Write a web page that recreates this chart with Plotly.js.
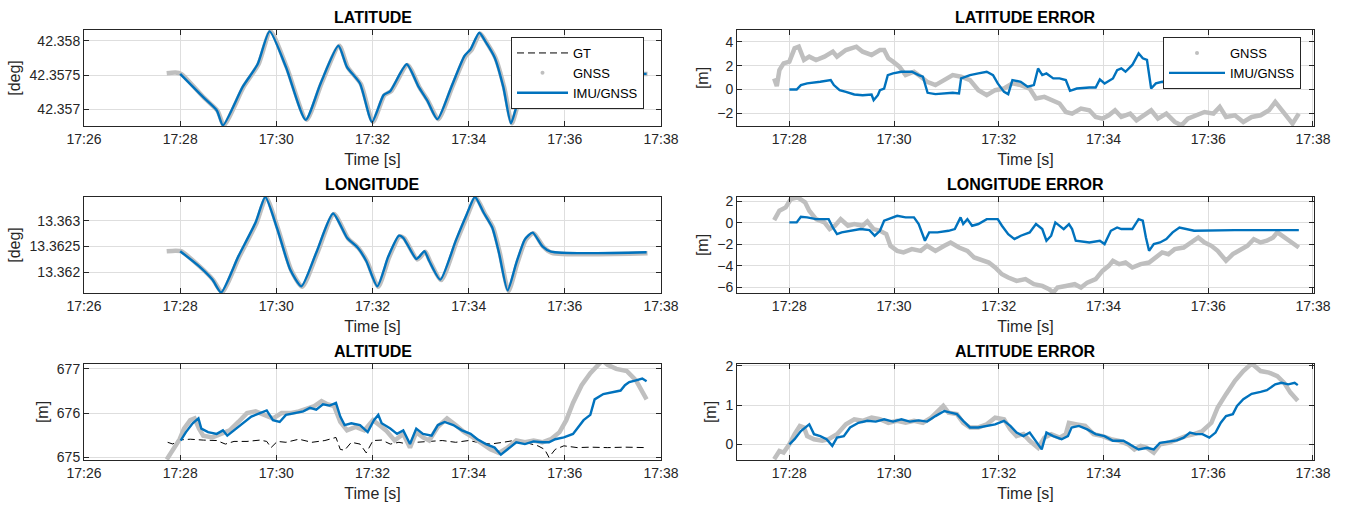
<!DOCTYPE html>
<html>
<head>
<meta charset="utf-8">
<script src="https://cdn.plot.ly/plotly-3.0.1.min.js"></script>
<style>html,body{margin:0;padding:0;background:#fff;}#chart{width:1349px;height:507px;}</style>
</head>
<body>
<div id="chart"></div>
<script>
// Times are minutes past 17:00 (same day)
const latT = [28.00,28.48,28.76,28.89,29.30,29.61,29.86,30.20,30.61,30.92,31.29,31.47,31.74,31.99,32.23,32.37,32.71,32.96,33.14,33.35,33.64,33.91,34.04,34.22,34.36,34.54,34.72,34.88,35.04,35.30,35.60,35.75,37.70];
const latImu = [42.35752,42.35718,42.35699,42.35677,42.35733,42.35766,42.35814,42.35762,42.35685,42.35738,42.35793,42.35762,42.35738,42.35682,42.35721,42.35727,42.35766,42.35733,42.35713,42.35686,42.35733,42.35778,42.35788,42.35812,42.35798,42.35776,42.35733,42.35680,42.35713,42.35730,42.35748,42.35752,42.35752];
const latGnssT = [27.72,27.90,28.02,28.50,28.78,28.91,29.32,29.63,29.88,30.22,30.63,30.94,31.31,31.49,31.76,32.01,32.25,32.39,32.73,32.98,33.16,33.37,33.66,33.93,34.06,34.24,34.38,34.56,34.74,34.90,35.06,35.32,35.62,35.77,37.72];
const latGnss = [42.35753,42.35754,42.35752,42.35717,42.35698,42.35677,42.35733,42.35766,42.35814,42.35761,42.35685,42.35738,42.35793,42.35761,42.35737,42.35682,42.35721,42.35727,42.35765,42.35732,42.35712,42.35686,42.35733,42.35777,42.35787,42.35811,42.35797,42.35775,42.35732,42.35680,42.35713,42.35730,42.35748,42.35752,42.35752];

const lonT = [28.00,28.39,28.67,28.85,29.21,29.57,29.77,30.02,30.29,30.52,30.83,31.18,31.47,31.69,31.87,32.10,32.33,32.55,32.64,32.91,32.98,33.08,33.18,33.41,33.73,33.95,34.13,34.31,34.49,34.63,34.81,34.99,35.17,35.33,35.53,35.71,37.70];
const lonImu = [13.36241,13.36212,13.36186,13.36161,13.36231,13.36297,13.36346,13.36284,13.36205,13.36173,13.36238,13.36314,13.36267,13.36248,13.36222,13.36173,13.36231,13.36271,13.36267,13.36226,13.36231,13.36241,13.36222,13.36186,13.36261,13.36310,13.36346,13.36316,13.36287,13.36238,13.36165,13.36218,13.36264,13.36277,13.36251,13.36240,13.36239];
const lonGnssT = [27.72,27.90,28.02,28.41,28.69,28.87,29.23,29.59,29.79,30.04,30.31,30.54,30.85,31.20,31.49,31.71,31.89,32.12,32.35,32.57,32.66,32.93,33.00,33.10,33.20,33.43,33.75,33.97,34.15,34.33,34.51,34.65,34.83,35.01,35.19,35.35,35.55,35.73,37.72];
const lonGnss = [13.36241,13.36242,13.36241,13.36211,13.36185,13.36161,13.36230,13.36296,13.36345,13.36283,13.36204,13.36172,13.36237,13.36313,13.36266,13.36247,13.36221,13.36172,13.36230,13.36270,13.36266,13.36225,13.36230,13.36240,13.36221,13.36185,13.36260,13.36309,13.36345,13.36315,13.36286,13.36237,13.36164,13.36217,13.36263,13.36276,13.36250,13.36238,13.36237];

const altGnssT = [27.72,27.81,27.90,27.99,28.08,28.21,28.30,28.39,28.48,28.67,28.85,29.03,29.21,29.39,29.57,29.75,29.93,30.11,30.29,30.47,30.65,30.79,30.94,31.06,31.20,31.33,31.47,31.65,31.83,32.01,32.14,32.28,32.46,32.64,32.78,32.91,33.05,33.18,33.36,33.55,33.73,33.91,34.09,34.27,34.45,34.63,34.81,34.99,35.17,35.35,35.53,35.71,35.89,36.03,36.17,36.35,36.53,36.78,36.89,37.07,37.29,37.48,37.61,37.70];
const altGnss = [674.95,675.10,675.26,675.41,675.65,675.84,675.88,675.65,675.49,675.45,675.53,675.61,675.80,676.00,676.04,675.96,675.88,676.00,676.00,676.04,676.12,676.16,676.27,676.20,676.16,675.80,675.61,675.69,675.61,675.84,675.73,675.61,675.38,675.53,675.22,675.57,675.45,675.38,675.69,675.88,675.73,675.57,675.45,675.30,675.18,675.10,675.22,675.38,675.34,675.38,675.34,675.41,675.57,675.84,676.23,676.63,676.90,677.19,677.09,677.00,676.95,676.74,676.51,676.31];
const altImuT = [28.01,28.12,28.26,28.38,28.44,28.58,28.76,28.89,28.98,29.16,29.30,29.48,29.66,29.80,29.93,30.07,30.20,30.38,30.56,30.70,30.83,30.97,31.11,31.24,31.33,31.42,31.56,31.74,31.90,32.03,32.12,32.19,32.37,32.51,32.64,32.78,32.91,33.05,33.23,33.36,33.50,33.68,33.86,34.04,34.18,34.36,34.54,34.67,34.81,34.99,35.17,35.35,35.53,35.67,35.80,35.98,36.17,36.26,36.39,36.53,36.62,36.80,36.98,37.16,37.25,37.34,37.48,37.61,37.70];
const altImu = [675.38,675.57,675.77,675.88,675.65,675.57,675.53,675.61,675.49,675.65,675.77,675.92,676.00,676.06,675.84,675.80,675.96,676.00,676.04,676.12,676.08,676.20,676.17,676.23,675.92,675.73,675.77,675.73,675.57,675.84,675.96,675.77,675.65,675.53,675.61,675.30,675.65,675.53,675.49,675.73,675.80,675.73,675.61,675.53,675.41,675.30,675.22,675.06,675.18,675.34,675.30,675.36,675.34,675.34,675.41,675.45,675.53,675.65,675.84,675.96,676.31,676.43,676.47,676.51,676.63,676.70,676.74,676.78,676.72];
const altGtT = [27.74,27.85,27.94,28.21,28.48,28.76,28.94,29.12,29.39,29.66,29.80,29.89,30.02,30.20,30.47,30.74,31.01,31.24,31.33,31.42,31.56,31.74,31.87,32.01,32.19,32.37,32.55,32.73,32.91,33.18,33.45,33.73,34.00,34.18,34.45,34.72,34.99,35.17,35.44,35.58,35.67,35.80,35.98,36.26,36.53,36.89,37.25,37.70];
const altGt = [675.34,675.30,675.39,675.41,675.39,675.38,675.30,675.36,675.36,675.39,675.36,675.22,675.36,675.34,675.41,675.34,675.38,675.45,675.18,675.16,675.34,675.30,675.10,675.38,675.39,675.30,675.34,675.30,675.34,675.36,675.38,675.34,675.38,675.34,675.30,675.34,675.39,675.34,675.26,675.18,675.00,675.18,675.26,675.22,675.23,675.22,675.23,675.22];

const latErrGnssT = [27.71,27.76,27.81,27.89,28.00,28.10,28.18,28.28,28.38,28.51,28.67,28.83,28.91,29.08,29.28,29.40,29.57,29.73,29.81,29.89,29.98,30.10,30.22,30.38,30.51,30.63,30.79,30.96,31.12,31.28,31.45,31.61,31.77,31.93,32.10,32.26,32.42,32.59,32.71,32.87,33.00,33.16,33.28,33.40,33.57,33.73,33.85,33.98,34.10,34.22,34.34,34.51,34.63,34.79,34.91,35.04,35.20,35.36,35.49,35.61,35.77,35.93,36.10,36.22,36.34,36.51,36.67,36.83,37.00,37.16,37.28,37.40,37.49,37.61,37.73];
const latErrGnss = [0.93,0.28,1.63,2.2,2.34,3.46,3.6,2.48,2.76,2.48,2.76,3.18,2.76,3.32,3.6,3.18,2.9,3.32,3.32,2.62,2.34,1.92,1.21,1.49,1.07,0.65,0.37,0.79,1.21,1.07,0.79,-0.06,-0.48,-0.06,0.08,0.51,0.37,0.08,-0.76,-0.62,-0.9,-1.18,-1.89,-2.03,-1.61,-1.75,-2.31,-2.45,-2.17,-1.75,-2.31,-2.03,-2.59,-2.17,-1.75,-2.45,-2.03,-2.73,-3.01,-2.45,-2.17,-1.89,-2.03,-1.46,-2.31,-2.17,-2.73,-2.31,-2.17,-1.75,-1.04,-1.75,-2.17,-2.87,-2.03];
const latErrImuT = [28.00,28.14,28.22,28.34,28.59,28.79,28.85,28.96,29.08,29.24,29.40,29.57,29.61,29.69,29.73,29.81,29.88,29.98,30.14,30.34,30.47,30.55,30.64,30.79,31.12,31.24,31.28,31.45,31.61,31.77,31.89,31.98,32.10,32.18,32.26,32.42,32.55,32.67,32.75,32.83,32.91,33.04,33.16,33.28,33.36,33.49,33.73,33.85,33.93,34.02,34.18,34.26,34.34,34.42,34.55,34.67,34.75,34.83,34.91,35.00,35.12,35.32,35.40,35.45,36.50,37.72];
const latErrImu = [0,0,0.37,0.51,0.65,0.79,0.37,-0.06,-0.2,-0.42,-0.48,-0.42,-0.9,-0.48,-0.06,0.08,1.21,1.35,1.49,1.49,1.21,1.07,-0.28,-0.39,-0.28,-0.34,0.93,1.21,1.35,1.49,1.21,0.51,-0.2,-0.39,0.79,0.65,0.23,0.37,1.77,1.21,1.35,0.93,0.93,0.79,-0.11,0.08,0.17,0.17,0.85,0.51,0.93,1.63,1.77,1.49,2.06,3.04,2.62,2.48,0.08,0.51,0.65,0.59,0.62,2.0,2.05,2.1];

const lonErrGnssT = [27.71,27.81,27.93,28.03,28.16,28.30,28.38,28.51,28.67,28.77,28.87,28.98,29.12,29.24,29.40,29.49,29.61,29.73,29.85,29.93,30.06,30.18,30.34,30.51,30.63,30.79,30.96,31.08,31.24,31.40,31.53,31.65,31.81,31.93,32.06,32.18,32.34,32.51,32.67,32.83,32.96,33.04,33.12,33.28,33.45,33.57,33.69,33.85,33.98,34.10,34.18,34.30,34.42,34.55,34.71,34.87,35.00,35.12,35.24,35.36,35.53,35.69,35.81,35.93,36.06,36.18,36.34,36.47,36.59,36.75,36.87,37.00,37.12,37.24,37.32,37.45,37.57,37.73];
const lonErrGnss = [0.25,1.12,1.43,2.21,2.37,1.9,1.12,0.34,0.03,-0.59,-0.28,0.34,-0.28,-0.12,-0.28,0.12,-0.59,-0.75,-1.06,-2.15,-2.62,-2.77,-2.46,-2.62,-2.15,-2.62,-2.15,-1.84,-2.31,-2.62,-3.24,-3.4,-3.71,-4.17,-4.8,-5.11,-5.42,-5.26,-5.73,-5.89,-6.2,-6.51,-6.04,-5.89,-5.73,-6.04,-5.58,-5.26,-4.49,-4.02,-3.55,-3.86,-3.71,-4.17,-3.86,-3.71,-3.24,-2.77,-2.93,-2.46,-2.31,-1.84,-1.37,-1.84,-2.15,-2.62,-3.55,-2.93,-2.62,-2.15,-1.53,-1.84,-1.68,-1.37,-0.9,-1.37,-1.68,-2.31];
const lonErrImuT = [28.00,28.14,28.22,28.34,28.51,28.75,28.83,28.91,29.00,29.16,29.36,29.53,29.63,29.73,29.81,29.89,30.06,30.22,30.38,30.47,30.59,30.67,30.83,31.04,31.16,31.27,31.32,31.40,31.49,31.61,31.77,31.98,32.06,32.18,32.30,32.42,32.59,32.71,32.83,32.91,33.00,33.08,33.16,33.24,33.34,33.40,33.47,33.73,33.93,34.02,34.14,34.26,34.34,34.55,34.67,34.75,34.81,34.87,34.96,35.08,35.20,35.32,35.45,35.61,35.73,36.51,37.73];
const lonErrImu = [0.03,0.03,0.56,0.5,0.34,0.34,-0.44,-1.06,-0.9,-0.75,-0.59,-0.69,-1.21,-0.75,0.19,0.34,0.65,0.5,0.5,-0.12,-1.68,-0.9,-0.9,-0.75,-0.59,0.5,-0.12,0.34,-0.28,-0.12,0.34,0.34,-0.28,-1.06,-1.53,-1.21,-0.9,-0.12,-0.59,-1.68,-1.21,0.03,-0.28,-0.59,-0.12,-0.59,-1.68,-1.84,-1.68,-1.99,-0.75,-0.44,-0.59,-0.59,0.34,0.19,-1.37,-2.62,-1.99,-1.84,-1.53,-0.9,-0.44,-0.59,-0.75,-0.69,-0.69];

const altErrGnssT = [27.71,27.81,27.89,28.00,28.10,28.20,28.28,28.34,28.47,28.63,28.75,28.91,29.08,29.24,29.40,29.57,29.73,29.89,30.06,30.22,30.38,30.55,30.71,30.83,30.94,31.04,31.20,31.32,31.45,31.61,31.77,31.93,32.10,32.22,32.34,32.47,32.59,32.75,32.87,33.00,33.16,33.28,33.34,33.49,33.65,33.81,33.98,34.14,34.30,34.47,34.59,34.71,34.83,34.96,35.08,35.24,35.40,35.57,35.73,35.89,36.06,36.18,36.34,36.51,36.67,36.83,37.00,37.16,37.32,37.45,37.57,37.71];
const altErrGnss = [-0.38,-0.17,-0.21,0,0.26,0.47,0.43,0.21,0.13,0.09,0.13,0.26,0.51,0.64,0.6,0.68,0.64,0.55,0.6,0.55,0.6,0.55,0.68,0.85,0.98,0.81,0.77,0.55,0.43,0.43,0.51,0.68,0.64,0.38,0.21,0.26,0.09,-0.09,0.17,0.26,0.17,0.26,0.55,0.51,0.47,0.26,0.21,0.13,0.09,0,-0.13,-0.04,-0.09,-0.21,0,0.04,0.13,0.21,0.26,0.34,0.55,0.94,1.28,1.62,1.87,2.06,1.87,1.83,1.74,1.57,1.32,1.11];
const altErrImuT = [28.00,28.10,28.22,28.34,28.38,28.47,28.59,28.71,28.82,28.91,29.04,29.16,29.32,29.49,29.65,29.81,29.98,30.14,30.30,30.47,30.63,30.79,30.96,31.08,31.20,31.32,31.45,31.61,31.77,31.93,32.10,32.22,32.34,32.47,32.59,32.71,32.82,32.91,33.04,33.20,33.32,33.39,33.53,33.69,33.85,34.02,34.18,34.38,34.55,34.67,34.83,34.96,35.08,35.24,35.40,35.53,35.65,35.77,35.89,36.02,36.14,36.24,36.34,36.47,36.55,36.67,36.83,37.00,37.12,37.28,37.40,37.53,37.65,37.71];
const altErrImu = [0,0.13,0.34,0.47,0.51,0.26,0.21,0.13,-0.04,0.17,0.21,0.43,0.55,0.6,0.58,0.64,0.58,0.64,0.58,0.61,0.58,0.72,0.85,0.81,0.77,0.6,0.43,0.43,0.47,0.51,0.6,0.47,0.3,0.21,0.3,0.09,-0.13,0.3,0.21,0.13,0.21,0.43,0.47,0.38,0.26,0.21,0.09,0.09,-0.04,-0.13,-0.09,-0.13,0.04,0.07,0.1,0.17,0.3,0.26,0.26,0.17,0.3,0.55,0.72,0.77,0.98,1.15,1.29,1.34,1.38,1.53,1.57,1.53,1.57,1.51];

const titles = ['LATITUDE','LATITUDE ERROR','LONGITUDE','LONGITUDE ERROR','ALTITUDE','ALTITUDE ERROR'];
const yLabels = ['[deg]','[m]','[deg]','[m]','[m]','[m]'];
const latTicks = [42.357,42.3575,42.358], latTickText = ['42.357','42.3575','42.358'];
const lonTicks = [13.362,13.3625,13.363], lonTickText = ['13.362','13.3625','13.363'];
const altTicks = [675,676,677];
const latErrTicks = [-2,0,2,4];
const lonErrTicks = [-6,-4,-2,0,2];
const altErrTicks = [0,1,2];
const seriesNames = ['GT','GNSS','IMU/GNSS'];

const DAY = '2023-06-01';
function toDate(m){
  const mm = Math.floor(m + 1e-9);
  const s = (m - mm) * 60;
  return DAY + ' 17:' + String(mm).padStart(2,'0') + ':' + s.toFixed(2).padStart(5,'0');
}
const D = a => a.map(toDate);

const GRAY = '#bfbfbf', BLUE = '#0072BD';
const gnssLine = {color: GRAY, width: 4.5};
const imuLine = {color: BLUE, width: 2.4};

const traces = [];
function addPair(ax, tG, vG, tI, vI, spline){
  const shape = spline ? 'spline' : 'linear';
  traces.push({type:'scatter', mode:'lines', x:D(tG), y:vG, xaxis:'x'+ax, yaxis:'y'+ax,
    line:Object.assign({shape:shape, smoothing:0.6}, gnssLine), showlegend:false, hoverinfo:'skip'});
  traces.push({type:'scatter', mode:'lines', x:D(tI), y:vI, xaxis:'x'+ax, yaxis:'y'+ax,
    line:Object.assign({shape:shape, smoothing:0.6}, imuLine), showlegend:false, hoverinfo:'skip'});
}
traces.push({type:'scatter', mode:'lines', x:D(altGtT), y:altGt, xaxis:'x5', yaxis:'y5',
  line:{color:'#000', width:1, dash:'7px,4px'}, name:seriesNames[0], legend:'legend', legendrank:1, showlegend:true});
addPair('', latGnssT, latGnss, latT, latImu, true);
addPair('2', latErrGnssT, latErrGnss, latErrImuT, latErrImu, false);
addPair('3', lonGnssT, lonGnss, lonT, lonImu, true);
addPair('4', lonErrGnssT, lonErrGnss, lonErrImuT, lonErrImu, false);
addPair('5', altGnssT, altGnss, altImuT, altImu, false);
addPair('6', altErrGnssT, altErrGnss, altErrImuT, altErrImu, false);
[['legend',''],['legend2','2']].forEach(([lg, ax]) => {
  traces.push({type:'scatter', mode:'markers', x:[null], y:[null], xaxis:'x'+ax, yaxis:'y'+ax,
    marker:{color:GRAY, size:4}, name:seriesNames[1], legend:lg, legendrank:2, showlegend:true});
  traces.push({type:'scatter', mode:'lines', x:[null], y:[null], xaxis:'x'+ax, yaxis:'y'+ax,
    line:{color:BLUE, width:2.4}, name:seriesNames[2], legend:lg, legendrank:3, showlegend:true});
});

const W = 1349, H = 507;
const colX = [[84/W, 661/W],[737/W, 1314/W]];
const rowY = [[1-126/H, 1-30/H],[1-293/H, 1-197/H],[1-460/H, 1-364/H]];
const AX = '#262626';

function axId(col,row){ const n = row*2 + col + 1; return n === 1 ? '' : String(n); }
function xAxis(col, row){
  const range = col === 0 ? [toDate(26), toDate(38)] : [toDate(27.0), toDate(38.02)];
  return {type:'date', domain:colX[col], anchor:'y'+axId(col,row), range:range,
    tickformat:'%H:%M', dtick:120000, tick0:toDate(26),
    showgrid:true, gridcolor:'#dedede', gridwidth:1, zeroline:false,
    showline:true, linecolor:AX, linewidth:1, mirror:'ticks', ticks:'inside', ticklen:5, tickcolor:AX,
    tickfont:{size:14, color:AX}, title:{text:'Time [s]', font:{size:16, color:AX}, standoff:8}};
}
function yAxis(col,row,range,tv,tt){
  const a = {domain:rowY[row], anchor:'x'+axId(col,row), range:range, tickvals:tv,
    showgrid:true, gridcolor:'#dedede', gridwidth:1, zeroline:false,
    showline:true, linecolor:AX, linewidth:1, mirror:'ticks', ticks:'inside', ticklen:5, tickcolor:AX,
    tickfont:{size:14, color:AX}, title:{text:yLabels[row*2+col], font:{size:16, color:AX}, standoff:4}};
  if (tt) a.ticktext = tt;
  return a;
}

const legendBase = {xanchor:'left', yanchor:'top', bgcolor:'#fff', bordercolor:AX, borderwidth:1,
  font:{size:13, color:'#000'}, tracegroupgap:0, traceorder:'normal'};

const layout = {
  width:W, height:H, margin:{l:0,r:0,t:0,b:0}, paper_bgcolor:'#fff', plot_bgcolor:'#fff',
  font:{family:'"Liberation Sans", Arial, Helvetica, sans-serif', size:14, color:AX},
  xaxis:xAxis(0,0), yaxis:yAxis(0,0,[42.35676,42.35816],latTicks,latTickText),
  xaxis2:xAxis(1,0), yaxis2:yAxis(1,0,[-3.07,5.0],latErrTicks),
  xaxis3:xAxis(0,1), yaxis3:yAxis(0,1,[13.3616,13.36346],lonTicks,lonTickText),
  xaxis4:xAxis(1,1), yaxis4:yAxis(1,1,[-6.55,2.4],lonErrTicks),
  xaxis5:xAxis(0,2), yaxis5:yAxis(0,2,[674.94,677.11],altTicks),
  xaxis6:xAxis(1,2), yaxis6:yAxis(1,2,[-0.4,2.05],altErrTicks),
  legend:Object.assign({x:511/W, y:1-37/H, itemwidth:51}, legendBase),
  legend2:Object.assign({x:1163/W, y:1-37/H, itemwidth:56}, legendBase),
  annotations: titles.map((t,i) => {
    const col = i % 2, row = Math.floor(i/2);
    return {text:'<b>'+t+'</b>', xref:'paper', yref:'paper', x:(colX[col][0]+colX[col][1])/2, y:rowY[row][1],
      xanchor:'center', yanchor:'bottom', yshift:2, showarrow:false, font:{size:16, color:'#000'}};
  }),
  showlegend:true
};

Plotly.newPlot('chart', traces, layout, {displayModeBar:false, staticPlot:true});
</script>
</body>
</html>
